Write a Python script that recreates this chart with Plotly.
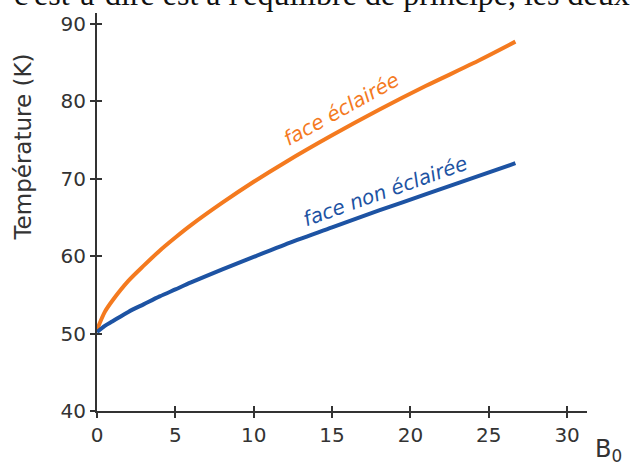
import plotly.graph_objects as go

# Data
x_vals = [0, 0.5, 1, 2, 3, 4, 5, 6, 8, 10, 12, 15, 18, 21, 24, 26.7]
t_eclairee = [50.5, 52.8, 54.3, 56.8, 58.8, 60.7, 62.4, 64.0, 66.9, 69.6, 72.1, 75.6, 78.9, 82.0, 84.9, 87.7]
t_non_eclairee = [50.2, 51.0, 51.6, 52.8, 53.8, 54.8, 55.7, 56.6, 58.3, 59.9, 61.5, 63.7, 65.9, 68.0, 70.1, 72.0]

x_ticks = [0, 5, 10, 15, 20, 25, 30]
y_ticks = [40, 50, 60, 70, 80, 90]

ORANGE = "#f47a1f"
BLUE = "#1d53a3"
AXIS = "#333333"

fig = go.Figure()
fig.add_trace(go.Scatter(x=x_vals, y=t_eclairee, mode="lines",
                         line=dict(color=ORANGE, width=4, shape="spline", smoothing=0.8),
                         showlegend=False, hoverinfo="skip"))
fig.add_trace(go.Scatter(x=x_vals, y=t_non_eclairee, mode="lines",
                         line=dict(color=BLUE, width=4, shape="spline", smoothing=0.8),
                         showlegend=False, hoverinfo="skip"))
# invisible trace to carry the overlay axes (inner half of the crossing ticks)
fig.add_trace(go.Scatter(x=[0], y=[40], xaxis="x2", yaxis="y2", mode="markers",
                         marker=dict(opacity=0), showlegend=False, hoverinfo="skip"))

XR = [0, 31.27]
YR = [40, 91.4]
tickfont = dict(family="DejaVu Sans", size=20, color=AXIS)

fig.update_layout(
    width=642, height=468,
    margin=dict(l=97, r=55, t=13, b=57, autoexpand=False),
    paper_bgcolor="white", plot_bgcolor="white",
    xaxis=dict(range=XR, tickvals=x_ticks, ticks="outside", ticklen=5, tickwidth=1.5,
               tickcolor=AXIS, showline=True, linecolor=AXIS, linewidth=2,
               showgrid=False, zeroline=False, tickfont=tickfont, automargin=False),
    yaxis=dict(range=YR, tickvals=y_ticks, ticks="outside", ticklen=5, tickwidth=1.5,
               tickcolor=AXIS, showline=True, linecolor=AXIS, linewidth=2,
               showgrid=False, zeroline=False, tickfont=tickfont, automargin=False),
    xaxis2=dict(range=XR, tickvals=x_ticks, ticks="inside", ticklen=5, tickwidth=1.5,
                tickcolor=AXIS, showticklabels=False, showline=False, showgrid=False,
                zeroline=False, overlaying="x", side="bottom"),
    yaxis2=dict(range=YR, tickvals=y_ticks, ticks="inside", ticklen=5, tickwidth=1.5,
                tickcolor=AXIS, showticklabels=False, showline=False, showgrid=False,
                zeroline=False, overlaying="y", side="left"),
)

annotations = [
    dict(text="face éclairée", x=15.6, y=79.0, xref="x", yref="y", showarrow=False,
         textangle=-29, font=dict(family="DejaVu Sans", size=20, color=ORANGE, style="italic")),
    dict(text="face non éclairée", x=18.4, y=68.4, xref="x", yref="y", showarrow=False,
         textangle=-19.5, font=dict(family="DejaVu Sans", size=20, color=BLUE, style="italic")),
    dict(text="Température (K)", x=-0.151, y=0.662, xref="paper", yref="paper",
         showarrow=False, textangle=-90, xanchor="center", yanchor="middle",
         font=dict(family="DejaVu Sans", size=23, color=AXIS)),
    dict(text="B<sub>0</sub>", x=1.012, y=0, xref="paper", yref="paper", showarrow=False,
         xanchor="left", yanchor="top", yshift=-22,
         font=dict(family="DejaVu Sans", size=24, color=AXIS)),
    dict(text="c'est-à-dire est à l'équilibre de principe, les deux", x=0, y=1,
         xref="paper", yref="paper", showarrow=False, xanchor="left", yanchor="bottom",
         xshift=-85, yshift=-1,
         font=dict(family="Liberation Serif", size=32, color="#111111")),
]
fig.update_layout(annotations=annotations)

fig.write_html("out.html", post_script="document.body.style.margin='0';",
               config={"displayModeBar": False})
